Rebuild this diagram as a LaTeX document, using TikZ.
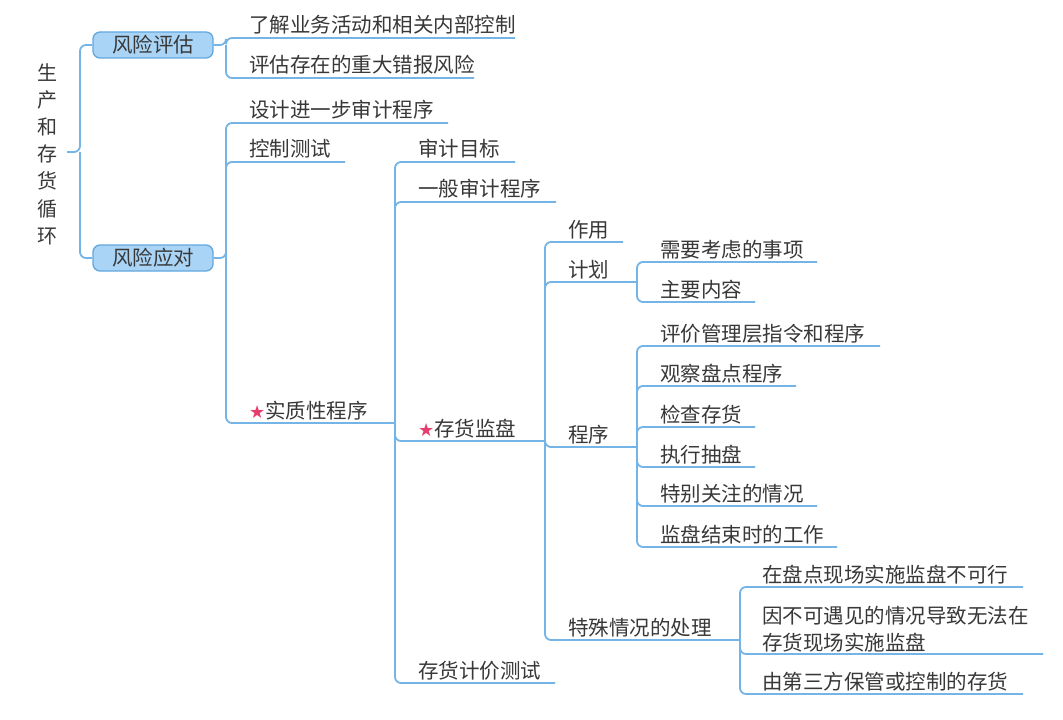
\documentclass[tikz,border=0pt]{standalone}
\usepackage{fontspec}
\setmainfont{Noto Sans CJK SC}
\newfontfamily\symfont{DejaVu Sans}
\definecolor{linec}{HTML}{74B4E6}
\definecolor{boxfill}{HTML}{A9D4F5}
\definecolor{boxdraw}{HTML}{62A8DF}
\definecolor{txt}{HTML}{383838}
\definecolor{starc}{HTML}{E63D6E}
\newcommand\redstar{{\symfont\fontsize{18bp}{18bp}\selectfont\textcolor{starc}{★}}}
\begin{document}
\begin{tikzpicture}[x=1bp,y=-1bp,
  conn/.style={draw=linec, line width=1.8bp, rounded corners=6bp},
  lbl/.style={anchor=base west, inner sep=0pt, font=\fontsize{20.5bp}{27bp}\selectfont, text=txt},
  rootlbl/.style={align=center, inner sep=0pt, font=\fontsize{20bp}{27.2bp}\selectfont, text=txt},
  topic/.style={draw=boxdraw, fill=boxfill, line width=1.3bp, rounded corners=7bp,
    minimum width=120bp, minimum height=26bp, inner sep=0pt,
    font=\fontsize{20.5bp}{24bp}\selectfont, text=txt}]
\path[fill=white] (0,0) rectangle (1063,720);
\useasboundingbox (0,0) rectangle (1063,720);

% root
\node[rootlbl] (root) at (47,154) {生\\产\\和\\存\\货\\循\\环};
\coordinate (root-s) at (67,152);
\coordinate (root-j) at (80,152);
\node[topic] (rpg) at (153,45) {风险评估};
\node[topic] (ryd) at (153,258) {风险应对};
\draw[conn] (root-s) -- (root-j) |- (rpg.west);
\draw[conn] (root-j) |- (ryd.west);

% 风险评估
\coordinate (rpg-j) at (226,45);
\node[lbl] (n1) at (249,33) {了解业务活动和相关内部控制};
\coordinate (n1-e) at (515,38);
\node[lbl] (n2) at (249,73) {评估存在的重大错报风险};
\coordinate (n2-e) at (474,78);
\draw[conn] (rpg.east) -- (rpg-j) |- (n1-e);
\draw[conn] (rpg-j) |- (n2-e);

% 风险应对
\coordinate (ryd-j) at (226,258);
\node[lbl] (n3) at (249,118) {设计进一步审计程序};
\coordinate (n3-e) at (448,123);
\node[lbl] (n4) at (249,157) {控制测试};
\coordinate (n4-e) at (345,162);
\node[lbl] (n5) at (249,418) {\redstar 实质性程序};
\coordinate (n5-e) at (395,423);
\draw[conn] (ryd.east) -- (ryd-j) |- (n3-e);
\draw[conn] (ryd-j) |- (n4-e);
\draw[conn] (ryd-j) |- (n5-e);

% 实质性程序
\node[lbl] (n6) at (418,157) {审计目标};
\coordinate (n6-e) at (515,162);
\node[lbl] (n7) at (418,197) {一般审计程序};
\coordinate (n7-e) at (556,202);
\node[lbl] (n8) at (418,436) {\redstar 存货监盘};
\coordinate (n8-e) at (545,441);
\node[lbl] (n9) at (418,678) {存货计价测试};
\coordinate (n9-e) at (555,683);
\draw[conn] (n5-e) |- (n6-e);
\draw[conn] (n5-e) |- (n7-e);
\draw[conn] (n5-e) |- (n8-e);
\draw[conn] (n5-e) |- (n9-e);

% 存货监盘
\node[lbl] (n10) at (568,237) {作用};
\coordinate (n10-e) at (623,242);
\node[lbl] (n11) at (568,277) {计划};
\coordinate (n11-e) at (637,282);
\node[lbl] (n12) at (568,442) {程序};
\coordinate (n12-e) at (637,447);
\node[lbl] (n13) at (568,635) {特殊情况的处理};
\coordinate (n13-e) at (740,640);
\draw[conn] (n8-e) |- (n10-e);
\draw[conn] (n8-e) |- (n11-e);
\draw[conn] (n8-e) |- (n12-e);
\draw[conn] (n8-e) |- (n13-e);

% 计划
\node[lbl] (p1) at (660,257) {需要考虑的事项};
\coordinate (p1-e) at (817,262);
\node[lbl] (p2) at (660,297) {主要内容};
\coordinate (p2-e) at (755,302);
\draw[conn] (n11-e) |- (p1-e);
\draw[conn] (n11-e) |- (p2-e);

% 程序
\node[lbl] (q1) at (660,341) {评价管理层指令和程序};
\coordinate (q1-e) at (880,346);
\node[lbl] (q2) at (660,381) {观察盘点程序};
\coordinate (q2-e) at (796,386);
\node[lbl] (q3) at (660,422) {检查存货};
\coordinate (q3-e) at (755,427);
\node[lbl] (q4) at (660,462) {执行抽盘};
\coordinate (q4-e) at (755,467);
\node[lbl] (q5) at (660,501) {特别关注的情况};
\coordinate (q5-e) at (817,506);
\node[lbl] (q6) at (660,542) {监盘结束时的工作};
\coordinate (q6-e) at (837,547);
\foreach \k in {q1,q2,q3,q4,q5,q6} {\draw[conn] (n12-e) |- (\k-e);}

% 特殊情况的处理
\node[lbl] (r1) at (762,582) {在盘点现场实施监盘不可行};
\coordinate (r1-e) at (1023,587);
\node[lbl, anchor=south west, align=left] (r2) at (762,652) {因不可遇见的情况导致无法在\\存货现场实施监盘};
\coordinate (r2-e) at (1043,654);
\node[lbl] (r3) at (762,689) {由第三方保管或控制的存货};
\coordinate (r3-e) at (1023,694);
\draw[conn] (n13-e) |- (r1-e);
\draw[conn] (n13-e) |- (r2-e);
\draw[conn] (n13-e) |- (r3-e);
\end{tikzpicture}
\end{document}
